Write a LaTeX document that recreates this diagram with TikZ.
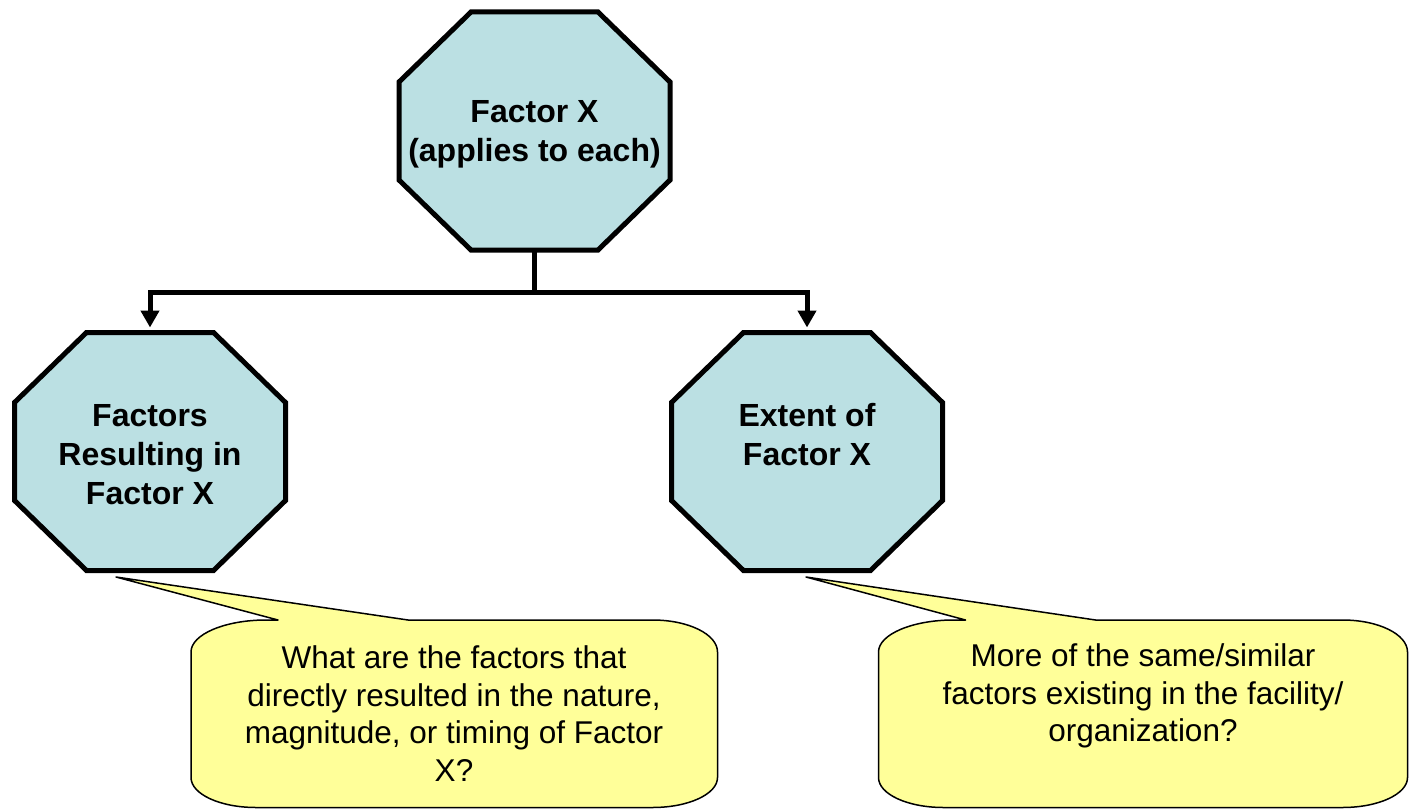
\documentclass[tikz,border=0pt]{standalone}
\usepackage{fontspec}
\setmainfont{Liberation Sans}
\usetikzlibrary{arrows.meta}

\definecolor{octfill}{HTML}{BBE0E3}
\definecolor{notefill}{HTML}{FFFF99}

\tikzset{
  frame/.style={draw=none, rectangle, inner sep=0pt, outer sep=0pt,
                minimum width=271pt, minimum height=238pt},
  octa/.style={draw=black, fill=octfill, line width=5pt, line join=miter},
  notebox/.style={draw=none, rectangle, inner sep=0pt, outer sep=0pt,
                  minimum height=187.5pt},
  note/.style={draw=black, fill=notefill, line width=1.5pt, line join=round},
  conn/.style={draw=black, line width=5pt, line join=miter,
               -{Triangle[width=18pt,length=17pt]}, shorten >=5pt},
  octtext/.style={align=center, inner sep=0pt,
                  font=\fontsize{32}{39}\selectfont\bfseries},
  notetext/.style={align=center, inner sep=0pt,
                   font=\fontsize{31.5}{37.8}\selectfont},
}

% octagon traced around a frame node, corners cut 72pt x 70pt
\newcommand\octshape[1]{%
  \path[octa] ([xshift=72pt]#1.north west) -- ([xshift=-72pt]#1.north east)
    -- ([yshift=-70pt]#1.north east) -- ([yshift=70pt]#1.south east)
    -- ([xshift=-72pt]#1.south east) -- ([xshift=72pt]#1.south west)
    -- ([yshift=70pt]#1.south west) -- ([yshift=-70pt]#1.north west) -- cycle;}

% rounded speech box around a frame node, with a wedge pointing at #2
\newcommand\noteshape[2]{%
  \path[note] ([yshift=-32pt]#1.north west)
    .. controls ([yshift=-14.3pt]#1.north west) and ([xshift=34pt]#1.north west) .. ([xshift=75pt]#1.north west)
    -- ([xshift=87pt]#1.north west) -- (#2) -- ([xshift=217pt]#1.north west)
    -- ([xshift=-65pt]#1.north east)
    .. controls ([xshift=-29pt]#1.north east) and ([yshift=-14.3pt]#1.north east) .. ([yshift=-32pt]#1.north east)
    -- ([yshift=30pt]#1.south east)
    .. controls ([yshift=13.4pt]#1.south east) and ([xshift=-29pt]#1.south east) .. ([xshift=-65pt]#1.south east)
    -- ([xshift=65pt]#1.south west)
    .. controls ([xshift=29pt]#1.south west) and ([yshift=13.4pt]#1.south west) .. ([yshift=30pt]#1.south west)
    -- cycle;}

\begin{document}
\begin{tikzpicture}[x=1pt, y=-1pt]
\useasboundingbox (0,0) rectangle (1412,810);

% frames of the three octagons
\node[frame] (top)   at (534.5,131)   {};
\node[frame] (left)  at (150,451.5)   {};
\node[frame] (right) at (807,451.5)   {};

% frames of the two speech boxes and the points their wedges reach
\node[notebox, minimum width=526.5pt] (noteL) at (454.25,713.75) {};
\node[notebox, minimum width=529pt]   (noteR) at (1143,713.75)   {};
\coordinate (tipL) at (116,577);
\coordinate (tipR) at (806,577);

\octshape{top}
\octshape{left}
\octshape{right}

\noteshape{noteL}{tipL}
\noteshape{noteR}{tipR}

% branching connector
\draw[conn] (top.south) -- ++(0,42) -| (left.north);
\draw[conn] (top.south) -- ++(0,42) -| (right.north);

% labels
\node[octtext] (topT)   at (534.5,134.5) {Factor X\\(applies to each)};
\node[octtext] (leftT)  at (150,455)     {Factors\\Resulting in\\Factor X};
\node[octtext] (rightT) at (807,435)     {Extent of\\Factor X};

\node[notetext] (noteLT) at (454,713.5)
  {What are the factors that\\directly resulted in the nature,\\magnitude, or timing of Factor\\X?};
\node[notetext] (noteRT) at (1143,696)
  {More of the same/similar\\factors existing in the facility/\\organization?};
\end{tikzpicture}
\end{document}
